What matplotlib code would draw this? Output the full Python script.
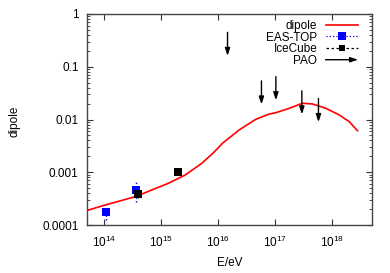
import matplotlib
matplotlib.use("Agg")
import matplotlib.pyplot as plt
from matplotlib.lines import Line2D
from matplotlib.patches import FancyArrowPatch
from matplotlib.legend_handler import HandlerBase
from matplotlib.ticker import LogLocator, NullLocator

plt.rcParams['font.family'] = ['Liberation Sans', 'DejaVu Sans']
plt.rcParams['mathtext.fontset'] = 'custom'
plt.rcParams['mathtext.rm'] = 'Liberation Sans'
plt.rcParams['mathtext.it'] = 'Liberation Sans'

# ---- data ----
dipole_E = [4.65e13, 1.04e14, 3.5e14, 1.34e15, 2.64e15, 5.18e15, 8.28e15, 1.19e16,
            2.33e16, 4.58e16, 7.85e16, 1.03e17, 1.76e17, 3.01e17, 4.51e17, 7.74e17,
            1.33e18, 1.99e18, 2.78e18]
dipole_A = [1.84e-4, 2.39e-4, 3.44e-4, 6.18e-4, 8.87e-4, 1.48e-3, 2.35e-3, 3.54e-3,
            6.32e-3, 0.0101, 0.0127, 0.01346, 0.0163, 0.0203, 0.0197, 0.0163,
            0.0122, 0.0091, 0.00614]

eastop_E = [1.07e14, 3.6e14]
eastop_A = [1.79e-4, 4.6e-4]
eastop_lo = [1.27e-4, 2.73e-4]
eastop_hi = [2.39e-4, 6.4e-4]

icecube_E = [3.85e14, 1.96e15]
icecube_A = [3.87e-4, 1.03e-3]
icecube_lo = [3.2e-4, 8.7e-4]
icecube_hi = [4.8e-4, 1.23e-3]

pao_E = [1.46e16, 5.75e16, 1.03e17, 2.94e17, 5.75e17]
pao_UL = [0.45, 0.054, 0.065, 0.035, 0.025]

ytick_vals = [1e-4, 1e-3, 1e-2, 1e-1, 1]
ytick_labels = ['0.0001', '0.001', '0.01', '0.1', '1']
xtick_vals = [1e14, 1e15, 1e16, 1e17, 1e18]
xtick_labels = [r'$\mathregular{10^{14}}$', r'$\mathregular{10^{15}}$',
                r'$\mathregular{10^{16}}$', r'$\mathregular{10^{17}}$',
                r'$\mathregular{10^{18}}$']

FS = 8.5

fig = plt.figure(figsize=(3.9, 2.73), dpi=100)
ax = fig.add_axes([87/390, 1-225/273, 285/390, 211/273])
ax.set_xscale('log')
ax.set_yscale('log')
ax.set_xlim(5e13, 5e18)
ax.set_ylim(1e-4, 1)

ax.plot(dipole_E, dipole_A, color='#ff0000', lw=1.2, zorder=3)

def errbar(E, A, lo, hi, color, ms, ls):
    yerr = [[a - l for a, l in zip(A, lo)], [h - a for a, h in zip(A, hi)]]
    c = ax.errorbar(E, A, yerr=yerr, fmt='s', color=color, ms=ms, mew=0,
                    elinewidth=1.0, capsize=2.0, capthick=1.0, zorder=4)
    for lc in c[2]:
        lc.set_linestyle(ls)
    return c

errbar(eastop_E, eastop_A, eastop_lo, eastop_hi, '#0000ff', 5.4, ':')
errbar(icecube_E, icecube_A, icecube_lo, icecube_hi, 'black', 5.2, '--')

for e, u in zip(pao_E, pao_UL):
    ax.annotate('', xy=(e, u/2.8), xytext=(e, u),
                arrowprops=dict(arrowstyle='-|>,head_length=0.45,head_width=0.15',
                                color='black', lw=1.0, shrinkA=0, shrinkB=0,
                                mutation_scale=10), zorder=5)

ax.set_xticks(xtick_vals, xtick_labels)
ax.xaxis.set_minor_locator(NullLocator())
ax.set_yticks(ytick_vals, ytick_labels)
ax.yaxis.set_minor_locator(LogLocator(base=10, subs=range(2, 10), numticks=20))
ax.yaxis.set_minor_formatter(plt.NullFormatter())

ax.tick_params(which='both', direction='in', top=True, right=True,
               color='#333333', labelsize=FS, labelcolor='black')
ax.tick_params(which='major', length=4.0, width=0.8)
ax.tick_params(which='minor', length=2.0, width=0.6)
ax.tick_params(axis='x', pad=7)
ax.tick_params(axis='y', pad=6)
for s in ax.spines.values():
    s.set_color('#444444')
    s.set_linewidth(1.0)

ax.set_xlabel('E/eV', fontsize=FS)
ax.set_ylabel('dipole', fontsize=FS)
ax.xaxis.set_label_coords(0.5, -0.15)
ax.yaxis.set_label_coords(-0.235, 0.49)


class HandlerArrow(HandlerBase):
    def create_artists(self, legend, orig_handle, xdescent, ydescent, width,
                       height, fontsize, trans):
        y = height / 2 - ydescent
        p = FancyArrowPatch((-xdescent, y), (-xdescent + width, y),
                            arrowstyle='-|>,head_length=0.45,head_width=0.15',
                            mutation_scale=10, color='black', lw=1.0,
                            shrinkA=0, shrinkB=0, transform=trans)
        return [p]


h_dip = Line2D([], [], color='#ff0000', lw=1.2)
h_eas = Line2D([], [], color='#0000ff', ls=':', lw=0.9, marker='s', ms=5.5, mew=0)
h_ice = Line2D([], [], color='black', ls='--', lw=0.9, marker='s', ms=5, mew=0,
               dashes=(2, 2))
h_pao = Line2D([], [], color='black')

leg = ax.legend([h_dip, h_eas, h_ice, h_pao], ['dipole', 'EAS-TOP', 'IceCube', 'PAO'],
                loc='upper right', bbox_to_anchor=(0.951, 0.972), markerfirst=False,
                frameon=False, fontsize=FS, handlelength=2.75, handletextpad=0.7,
                labelspacing=-0.03, borderpad=0, borderaxespad=0,
                handler_map={h_pao: HandlerArrow()})

fig.savefig('out.png', dpi=100)
